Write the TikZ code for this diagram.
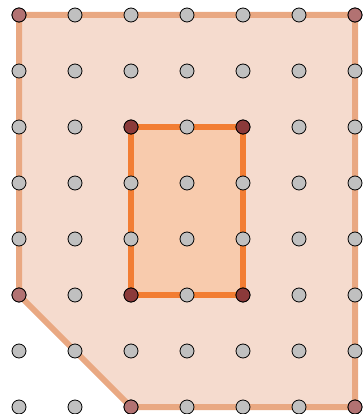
\documentclass[tikz,border=0pt]{standalone}
\definecolor{outerfill}{HTML}{F5DBCE}
\definecolor{outerline}{HTML}{E9A882}
\definecolor{innerfill}{HTML}{F8CBAD}
\definecolor{innerline}{HTML}{F27D33}
\definecolor{dotgray}{HTML}{C0C0C0}
\definecolor{dotdark}{HTML}{8B3A3A}
\definecolor{dotlight}{HTML}{B27272}
\begin{document}
\begin{tikzpicture}[x=1pt,y=-1pt,
  gdot/.style={circle,draw=black,line width=0.8pt,fill=dotgray,minimum size=14pt,inner sep=0pt},
  ddot/.style={gdot,fill=dotdark},
  ldot/.style={gdot,fill=dotlight}]
\useasboundingbox (0,0) rectangle (363,414);
\coordinate (o1) at (19,15);
\coordinate (o2) at (355,15);
\coordinate (o3) at (355,407);
\coordinate (o4) at (131,407);
\coordinate (o5) at (19,295);
\draw[fill=outerfill,draw=outerline,line width=6pt,line join=miter] (o1) -- (o2) -- (o3) -- (o4) -- (o5) -- cycle;
\coordinate (i1) at (131,127);
\coordinate (i2) at (243,127);
\coordinate (i3) at (243,295);
\coordinate (i4) at (131,295);
\draw[fill=innerfill,draw=innerline,line width=6pt] (i1) -- (i2) -- (i3) -- (i4) -- cycle;
\foreach \i in {0,...,6}{
  \foreach \j in {0,...,7}{
    \node[gdot] (d\i\j) at (19+56*\i,15+56*\j) {};
  }
}
\foreach \p in {o1,o2,o3,o4,o5}{ \node[ldot] at (\p) {}; }
\foreach \p in {i1,i2,i3,i4}{ \node[ddot] at (\p) {}; }
\end{tikzpicture}
\end{document}
